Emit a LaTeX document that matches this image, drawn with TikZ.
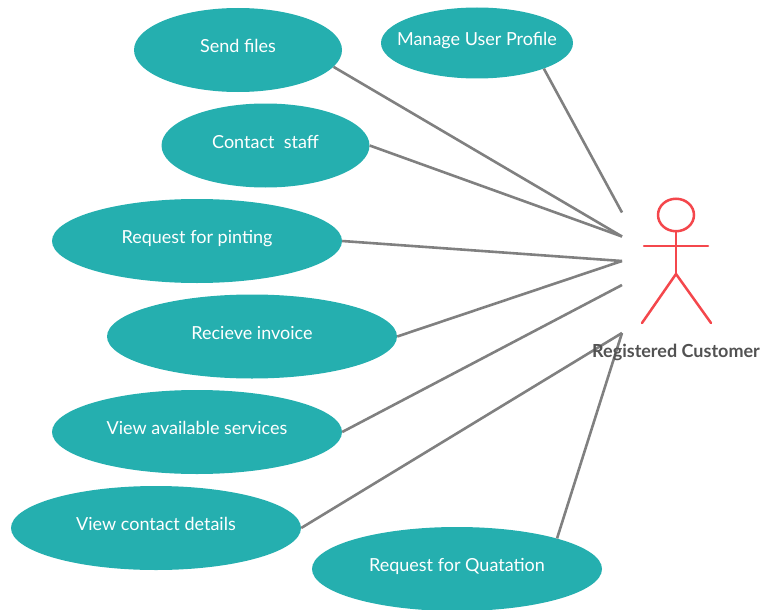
\documentclass[tikz,border=0pt]{standalone}
\usepackage{fontspec}
\setmainfont{Lato}
\usetikzlibrary{shapes.geometric}
\definecolor{teal1}{HTML}{25AFAF}
\definecolor{edge}{HTML}{808080}
\definecolor{red1}{HTML}{F4474C}
\newcommand{\uclabel}[1]{\raisebox{-2.5pt}[0pt][0pt]{\makebox[0pt]{#1}}}
\tikzset{
 x=1pt,y=-1pt,
 uc/.style={ellipse,fill=teal1,text=white,inner sep=0pt,font=\fontsize{18}{20}\selectfont},
 link/.style={draw=edge,line width=2.6pt},
 act/.style={draw=red1,line width=2.5pt,line cap=round},
}
\begin{document}
\begin{tikzpicture}
\useasboundingbox (0,0) rectangle (763,610);
\node[uc,minimum width=208,minimum height=84] (a) at (238,50) {\uclabel{Send files}};
\node[uc,minimum width=192,minimum height=71] (b) at (477,43) {\uclabel{Manage User Profile}};
\node[uc,minimum width=208,minimum height=84] (c) at (265.5,145.5) {\uclabel{Contact\ \ staff}};
\node[uc,minimum width=290,minimum height=84] (d) at (197,241) {\uclabel{Request for pinting}};
\node[uc,minimum width=290,minimum height=84] (e) at (252,336.5) {\uclabel{Recieve invoice}};
\node[uc,minimum width=290,minimum height=84] (f) at (197,432) {\uclabel{View available services}};
\node[uc,minimum width=290,minimum height=84] (g) at (156,528) {\uclabel{View contact details}};
\node[uc,minimum width=290,minimum height=84] (h) at (457,569) {\uclabel{Request for Quatation}};
\coordinate (pb) at (622,212.5);
\coordinate (pa) at (622,236.5);
\coordinate (pd) at (622,261);
\coordinate (pf) at (622,285);
\coordinate (pg) at (622,333);
\draw[link] (a.-10.2) -- (pa);
\draw[link] (b.-21.9) -- (pb);
\draw[link] (c.east) -- (pa);
\draw[link] (d.east) -- (pd);
\draw[link] (e.east) -- (pd);
\draw[link] (f.east) -- (pf);
\draw[link] (g.east) -- (pg);
\draw[link] (h.17.7) -- (pg);
\node[draw=red1,line width=2.5pt,ellipse,minimum width=36,minimum height=32.5,inner sep=0pt] (head) at (676,215) {};
\coordinate (hip) at (676,274);
\coordinate (armL) at (644,246);
\coordinate (armR) at (708,246);
\coordinate (legL) at (642,323);
\coordinate (legR) at (711,323);
\draw[act] (head) -- (hip);
\draw[act] (armL) -- (armR);
\draw[act] (legL) -- (hip) -- (legR);
\node[font=\fontsize{18}{20}\selectfont\bfseries,text=black!68] (lbl) at (676,352.5) {Registered Customer};
\end{tikzpicture}
\end{document}
